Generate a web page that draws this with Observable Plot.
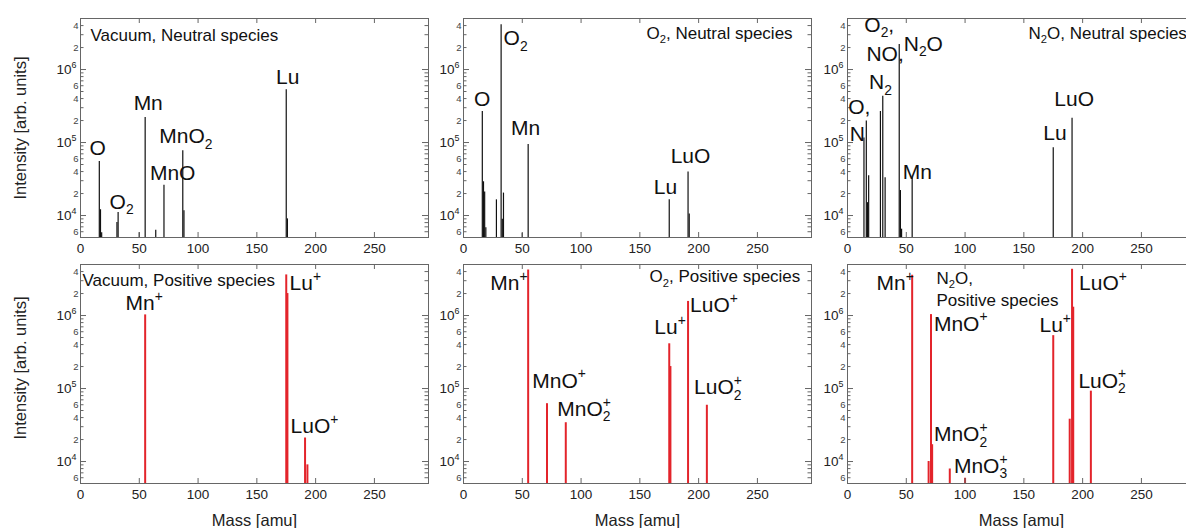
<!DOCTYPE html>
<html><head><meta charset="utf-8">
<script src="https://cdn.jsdelivr.net/npm/d3@7"></script>
<script src="https://cdn.jsdelivr.net/npm/@observablehq/plot@0.6"></script>
<style>
body{margin:0;background:#fff;}
#wrap{position:relative;width:1186px;height:528px;overflow:hidden;background:#fff;}
#wrap svg{position:absolute;}
</style></head><body><div id="wrap"></div>
<script>
// ---------- data ----------
const massTicks = [0, 50, 100, 150, 200, 250];
const innerMassTicks = [50, 100, 150, 200, 250];
const massDomain = [0, 296];
const intensityDomain = [5000, 5e6];
const majorIntensityTicks = [1e4, 1e5, 1e6];
const majorIntensityLabels = ["10^4", "10^5", "10^6"];
const labeledMinorTicks = [6e3, 2e4, 4e4, 6e4, 2e5, 4e5, 6e5, 2e6, 4e6];
const labeledMinorText = ["6", "2", "4", "6", "2", "4", "6", "2", "4"];
const minorIntensityTicks = [6e3, 7e3, 8e3, 9e3, 2e4, 3e4, 4e4, 5e4, 6e4, 7e4, 8e4, 9e4,
  2e5, 3e5, 4e5, 5e5, 6e5, 7e5, 8e5, 9e5, 2e6, 3e6, 4e6];

// Vacuum, neutral
const vacNeutralMass = [16, 17, 18, 31, 32, 50, 55, 64, 71, 87, 88, 175, 176];
const vacNeutralIntensity = [5.5e4, 1.2e4, 5.8e3, 8e3, 1.1e4, 5.8e3, 2.2e5, 6.3e3, 2.6e4, 7.7e4, 1.16e4, 5.3e5, 9e3];
const vacNeutralLabels = ["O", "O_2", "Mn", "MnO_2", "MnO", "Lu"];
const vacNeutralLabelMass = [14.5, 35, 57.6, 89.7, 78.4, 176.3];
const vacNeutralLabelIntensity = [8.3e4, 1.52e4, 3.5e5, 1.21e5, 3.75e4, 7.8e5];

// O2, neutral
const o2NeutralMass = [16, 17, 18, 19, 28, 32, 33, 34, 50, 55, 175, 191, 192];
const o2NeutralIntensity = [2.66e5, 2.9e4, 2.1e4, 6.8e3, 1.64e4, 4.1e6, 8.9e3, 2.03e4, 5.7e3, 9.4e4, 1.64e4, 3.96e4, 1.05e4];
const o2NeutralLabels = ["O", "O_2", "Mn", "Lu", "LuO"];
const o2NeutralLabelMass = [15.8, 44.3, 52.9, 171.8, 193.1];
const o2NeutralLabelIntensity = [3.9e5, 2.64e6, 1.58e5, 2.45e4, 6.4e4];

// N2O, neutral
const n2oNeutralMass = [14, 16, 17, 18, 28, 30, 32, 44, 45, 46, 55, 175, 191];
const n2oNeutralIntensity = [1.15e5, 1.97e5, 1.5e4, 3.5e4, 2.66e5, 4.3e5, 3.3e4, 2.2e6, 2.2e4, 6.5e3, 3.3e4, 8.5e4, 2.15e5];
const n2oNeutralLabels = ["O,", "N", "O_2,", "NO,", "N_2", "N_2O", "Mn", "Lu", "LuO"];
const n2oNeutralLabelMass = [10, 8.3, 27, 32, 28, 64.5, 59.4, 176.4, 192.8];
const n2oNeutralLabelIntensity = [3e5, 1.28e5, 4.04e6, 1.64e6, 6.6e5, 2.25e6, 3.96e4, 1.34e5, 3.9e5];

// Vacuum, positive
const vacPositiveMass = [55, 175, 176, 191, 193];
const vacPositiveIntensity = [1.02e6, 3.6e6, 2e6, 2.1e4, 9e3];
const vacPositiveLabels = ["Mn^+", "Lu^+", "LuO^+"];
const vacPositiveLabelMass = [54.2, 191.2, 199];
const vacPositiveLabelIntensity = [1.45e6, 2.74e6, 3.03e4];

// O2, positive
const o2PositiveMass = [55, 71, 87, 175, 176, 191, 207];
const o2PositiveIntensity = [4.2e6, 6.2e4, 3.4e4, 4.1e5, 2e5, 1.56e6, 5.9e4];
const o2PositiveLabels = ["Mn^+", "MnO^+", "MnO_2^+", "Lu^+", "LuO^+", "LuO_2^+"];
const o2PositiveLabelMass = [38.6, 81.3, 102.6, 175.7, 213, 216.4];
const o2PositiveLabelIntensity = [2.74e6, 1.27e5, 5.2e4, 6.9e5, 1.37e6, 1.03e5];

// N2O, positive
const n2oPositiveMass = [55, 69, 71, 72, 87, 100, 175, 189, 191, 192, 207];
const n2oPositiveIntensity = [3.56e6, 1e4, 1.03e6, 1.7e4, 7.9e3, 5.9e3, 5.3e5, 3.8e4, 4.3e6, 1.3e6, 9.2e4];
const n2oPositiveLabels = ["Mn^+", "MnO^+", "Lu^+", "LuO^+", "LuO_2^+", "MnO_2^+", "MnO_3^+"];
const n2oPositiveLabelMass = [40.5, 96.3, 176.7, 217.3, 216.7, 96.3, 113.3];
const n2oPositiveLabelIntensity = [2.74e6, 7.7e5, 7.3e5, 2.74e6, 1.27e5, 2.35e4, 8.6e3];

// ---------- helpers ----------
const zip = (m, v) => m.map((d, i) => ({mass: d, intensity: v[i]}));
const zipL = (t, m, v) => t.map((d, i) => ({text: d, mass: m[i], intensity: v[i]}));
const FONT = '"Liberation Sans", Arial, Helvetica, sans-serif';
const FRAME = "#666";
const BLACK = "#111";
const RED = "#e3242b";

function parseRich(s) {
  const out = []; let i = 0, buf = "";
  while (i < s.length) {
    const c = s[i];
    if (c === "_" || c === "^") {
      if (buf) { out.push({t: "n", s: buf}); buf = ""; }
      const v = s[i + 1]; i += 2;
      if (c === "_" && s[i] === "^") { out.push({t: "ss", sub: v, sup: s[i + 1]}); i += 2; }
      else out.push({t: c === "_" ? "sub" : "sup", s: v});
    } else { buf += c; i++; }
  }
  if (buf) out.push({t: "n", s: buf});
  return out;
}
function richify(svg) {
  const NS = "http://www.w3.org/2000/svg";
  svg.querySelectorAll("text").forEach(el => {
    const s = el.textContent;
    if (!/[_^]/.test(s)) return;
    const fs = parseFloat(getComputedStyle(el).fontSize) || 16;
    const parts = parseRich(s);
    while (el.firstChild) el.removeChild(el.firstChild);
    let off = 0;
    const add = (txt, size, dy, dx) => {
      const t = document.createElementNS(NS, "tspan");
      if (size) t.setAttribute("font-size", size);
      if (dy) t.setAttribute("dy", dy);
      if (dx) t.setAttribute("dx", dx);
      t.textContent = txt;
      el.appendChild(t);
    };
    const small = fs * 0.66, subD = fs * 0.26, supD = -fs * 0.45;
    for (const p of parts) {
      if (p.t === "n") { add(p.s, null, off ? -off : null); off = 0; }
      else if (p.t === "sub") { add(p.s, small, subD - off); off = subD; }
      else if (p.t === "sup") { add(p.s, small, supD - off); off = supD; }
      else { add(p.sub, small, subD - off); add(p.sup, small, supD - subD, -small * 0.56); off = supD; }
    }
  });
}

const wrap = document.getElementById("wrap");
const fw = 348, fh = 219;
const colLeft = [0, 432, 815];
const colMarginLeft = [80, 31, 32];
const rowTop = [0, 259];

function panel({col, row, peaks, color, strokeWidth, labels, titles}) {
  const mL = colMarginLeft[col], mR = 4;
  const mT = row === 0 ? 18 : 5;
  const mB = row === 0 ? 22 : 45;
  const marks = [
    Plot.ruleX(peaks, {x: "mass", y1: intensityDomain[0], y2: "intensity", stroke: color, strokeWidth}),
    Plot.frame({stroke: FRAME, strokeWidth: 1}),
    Plot.ruleX(innerMassTicks, {x: d => d, insetTop: fh - 5, stroke: FRAME}),
    Plot.ruleX(innerMassTicks, {x: d => d, insetBottom: fh - 5, stroke: FRAME}),
    Plot.ruleY(majorIntensityTicks, {y: d => d, insetRight: fw - 6, stroke: FRAME}),
    Plot.ruleY(majorIntensityTicks, {y: d => d, insetLeft: fw - 6, stroke: FRAME}),
    Plot.ruleY(minorIntensityTicks, {y: d => d, insetRight: fw - 3.5, stroke: FRAME}),
    Plot.ruleY(minorIntensityTicks, {y: d => d, insetLeft: fw - 3.5, stroke: FRAME}),
    Plot.axisX(massTicks, {tickSize: 0, tickPadding: 6, fontSize: 13.5, label: null, fill: "#222"}),
    Plot.text(majorIntensityTicks, {y: d => d, text: (d, i) => majorIntensityLabels[i], frameAnchor: "left",
      dx: -4, textAnchor: "end", lineAnchor: "middle", fontSize: 13.5, fill: "#222"}),
    Plot.text(labeledMinorTicks, {y: d => d, text: (d, i) => labeledMinorText[i], frameAnchor: "left",
      dx: -2, textAnchor: "end", lineAnchor: "middle", fontSize: 9.5, fill: "#444"}),
    Plot.text(labels, {x: "mass", y: "intensity", text: "text", fontSize: 21, fill: BLACK,
      textAnchor: "middle", lineAnchor: "middle"})
  ];
  for (const t of titles) {
    marks.push(Plot.text([t.text], {text: d => d, frameAnchor: "top-left", dx: t.dx, dy: t.dy,
      textAnchor: "start", lineAnchor: "middle", fontSize: 17, fill: BLACK}));
  }
  if (col === 0) {
    marks.push(Plot.text(["Intensity [arb. units]"], {text: d => d, frameAnchor: "left", rotate: -90,
      dx: -60, dy: row === 0 ? 0 : -6, fontSize: 16.5, fill: "#222", textAnchor: "middle", lineAnchor: "middle"}));
  }
  if (row === 1) {
    marks.push(Plot.text(["Mass [amu]"], {text: d => d, frameAnchor: "bottom", dy: 37,
      fontSize: 16.5, fill: "#222", textAnchor: "middle", lineAnchor: "middle"}));
  }
  const svg = Plot.plot({
    width: mL + fw + mR, height: mT + fh + mB,
    marginLeft: mL, marginRight: mR, marginTop: mT, marginBottom: mB,
    x: {domain: massDomain, label: null},
    y: {type: "log", domain: intensityDomain, label: null, axis: null},
    style: {fontFamily: FONT, background: "transparent", color: "#222", overflow: "visible"},
    marks
  });
  svg.style.left = colLeft[col] + "px";
  svg.style.top = rowTop[row] + "px";
  wrap.appendChild(svg);
  richify(svg);
}

panel({col: 0, row: 0, peaks: zip(vacNeutralMass, vacNeutralIntensity), color: BLACK, strokeWidth: 1.2,
  labels: zipL(vacNeutralLabels, vacNeutralLabelMass, vacNeutralLabelIntensity),
  titles: [{text: "Vacuum, Neutral species", dx: 10, dy: 17}]});
panel({col: 1, row: 0, peaks: zip(o2NeutralMass, o2NeutralIntensity), color: BLACK, strokeWidth: 1.2,
  labels: zipL(o2NeutralLabels, o2NeutralLabelMass, o2NeutralLabelIntensity),
  titles: [{text: "O_2, Neutral species", dx: 183, dy: 15}]});
panel({col: 2, row: 0, peaks: zip(n2oNeutralMass, n2oNeutralIntensity), color: BLACK, strokeWidth: 1.2,
  labels: zipL(n2oNeutralLabels, n2oNeutralLabelMass, n2oNeutralLabelIntensity),
  titles: [{text: "N_2O, Neutral species", dx: 181, dy: 15}]});
panel({col: 0, row: 1, peaks: zip(vacPositiveMass, vacPositiveIntensity), color: RED, strokeWidth: 2,
  labels: zipL(vacPositiveLabels, vacPositiveLabelMass, vacPositiveLabelIntensity),
  titles: [{text: "Vacuum, Positive species", dx: 2, dy: 16}]});
panel({col: 1, row: 1, peaks: zip(o2PositiveMass, o2PositiveIntensity), color: RED, strokeWidth: 2,
  labels: zipL(o2PositiveLabels, o2PositiveLabelMass, o2PositiveLabelIntensity),
  titles: [{text: "O_2, Positive species", dx: 186, dy: 12.5}]});
panel({col: 2, row: 1, peaks: zip(n2oPositiveMass, n2oPositiveIntensity), color: RED, strokeWidth: 2,
  labels: zipL(n2oPositiveLabels, n2oPositiveLabelMass, n2oPositiveLabelIntensity),
  titles: [{text: "N_2O,", dx: 89, dy: 14}, {text: "Positive species", dx: 89, dy: 36}]});
</script></body></html>
